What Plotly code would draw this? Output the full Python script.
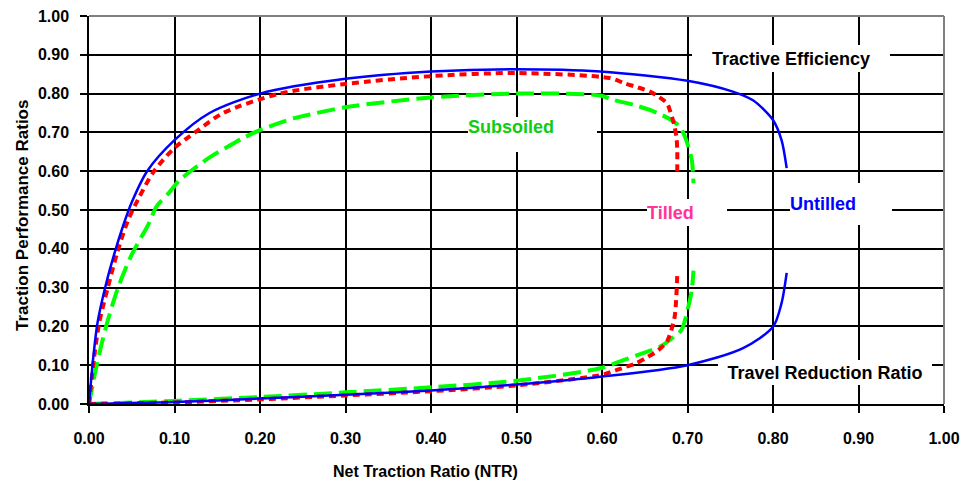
import plotly.graph_objects as go

# ---------------- data ----------------
untilled_te_x = [0.000, 0.005, 0.010, 0.020, 0.030, 0.040, 0.050, 0.068, 0.100, 0.141, 0.200, 0.300,
                 0.400, 0.500, 0.598, 0.700, 0.753, 0.777, 0.800, 0.810, 0.816]
untilled_te_y = [0.000, 0.12, 0.21, 0.31, 0.39, 0.46, 0.52, 0.60, 0.68, 0.75, 0.80, 0.838,
                 0.857, 0.863, 0.857, 0.833, 0.805, 0.782, 0.732, 0.680, 0.608]
untilled_trr_x = [0.0, 0.1, 0.2, 0.3, 0.4, 0.5, 0.598, 0.700, 0.765, 0.800, 0.810, 0.816]
untilled_trr_y = [0.0, 0.005, 0.014, 0.024, 0.035, 0.05, 0.07, 0.10, 0.144, 0.199, 0.26, 0.338]

tilled_te_x = [0.000, 0.006, 0.012, 0.022, 0.033, 0.045, 0.058, 0.076, 0.100, 0.124, 0.157, 0.223,
               0.300, 0.400, 0.500, 0.609, 0.627, 0.642, 0.656, 0.666, 0.676, 0.680, 0.684, 0.687,
               0.688, 0.688]
tilled_te_y = [0.000, 0.12, 0.21, 0.30, 0.39, 0.47, 0.53, 0.60, 0.66, 0.70, 0.75, 0.80,
               0.825, 0.845, 0.853, 0.840, 0.826, 0.816, 0.805, 0.792, 0.775, 0.753, 0.723, 0.689,
               0.655, 0.599]
tilled_trr_x = [0.0, 0.1, 0.2, 0.3, 0.4, 0.5, 0.6, 0.611, 0.627, 0.640, 0.654, 0.666, 0.676,
                0.681, 0.685, 0.687, 0.688]
tilled_trr_y = [0.0, 0.004, 0.012, 0.022, 0.033, 0.048, 0.075, 0.083, 0.095, 0.105, 0.122, 0.139,
                0.161, 0.19, 0.225, 0.28, 0.332]

subsoiled_te_x = [0.000, 0.009, 0.020, 0.034, 0.050, 0.069, 0.079, 0.093, 0.106, 0.126, 0.142, 0.159,
                  0.180, 0.200, 0.239, 0.256, 0.300, 0.400, 0.500, 0.598, 0.613, 0.637, 0.656, 0.670,
                  0.681, 0.691, 0.697, 0.701, 0.705, 0.707]
subsoiled_te_y = [0.000, 0.10, 0.20, 0.30, 0.385, 0.461, 0.509, 0.543, 0.577, 0.612, 0.637, 0.659,
                  0.685, 0.706, 0.736, 0.745, 0.765, 0.790, 0.800, 0.795, 0.784, 0.771, 0.758, 0.745,
                  0.732, 0.715, 0.689, 0.663, 0.629, 0.569]
subsoiled_trr_x = [0.0, 0.1, 0.2, 0.3, 0.4, 0.5, 0.598, 0.625, 0.648, 0.668, 0.685, 0.693, 0.701,
                   0.705, 0.707]
subsoiled_trr_y = [0.0, 0.008, 0.018, 0.03, 0.043, 0.06, 0.092, 0.113, 0.131, 0.148, 0.175, 0.191,
                   0.251, 0.294, 0.344]

tick_vals = [0.0, 0.1, 0.2, 0.3, 0.4, 0.5, 0.6, 0.7, 0.8, 0.9, 1.0]
tick_text = ["0.00", "0.10", "0.20", "0.30", "0.40", "0.50", "0.60", "0.70", "0.80", "0.90", "1.00"]

FONT = "Arial, 'Liberation Sans', Helvetica, sans-serif"

fig = go.Figure()

green = dict(color="#00ff00", width=4, dash="18px,7px", shape="spline", smoothing=0.8)
red = dict(color="#ff0000", width=4, dash="7px,5px", shape="spline", smoothing=0.8)
blue = dict(color="#0000ff", width=2.5, shape="spline", smoothing=0.8)

for xs, ys, ln in [
    (subsoiled_te_x, subsoiled_te_y, green),
    (subsoiled_trr_x, subsoiled_trr_y, green),
    (tilled_te_x, tilled_te_y, red),
    (tilled_trr_x, tilled_trr_y, red),
    (untilled_te_x, untilled_te_y, blue),
    (untilled_trr_x, untilled_trr_y, blue),
]:
    fig.add_trace(go.Scatter(x=xs, y=ys, mode="lines", line=ln, showlegend=False,
                             hoverinfo="skip"))

axis_common = dict(
    range=[0, 1], tickvals=tick_vals, ticktext=tick_text,
    showgrid=True, gridcolor="black", gridwidth=1.5,
    zeroline=False, showline=True, linecolor="black", linewidth=1.5,
    ticks="outside", ticklen=7, tickwidth=1.5, tickcolor="black",
    tickfont=dict(family=FONT, size=16, color="black", weight="bold"),
    automargin=False,
)

fig.update_xaxes(**axis_common, ticklabelstandoff=12)
fig.update_yaxes(**axis_common, ticklabelstandoff=8)


def lab(text, x, y, w, h, color, align="center", valign="middle"):
    fig.add_annotation(
        text=f"<b>{text}</b>", x=x, y=y, xref="x", yref="y",
        xanchor="center", yanchor="middle", showarrow=False,
        width=w, height=h, align=align, valign=valign,
        bgcolor="white", borderpad=0, borderwidth=0,
        font=dict(family=FONT, size=18, color=color),
    )


lab("Tractive Efficiency", 0.821, 0.890, 198, 27, "black")
lab("Subsoiled", 0.519, 0.695, 129, 35, "#11cc11", align="left", valign="top")
lab("Tilled", 0.6994, 0.494, 80, 27, "#ff3399", align="left")
lab("Untilled", 0.8795, 0.5155, 102, 42, "#0000ff", align="left")
lab("Travel Reduction Ratio", 0.8608, 0.0812, 214, 25, "black")

# axis titles
fig.add_annotation(text="<b>Net Traction Ratio (NTR)</b>", xref="paper", yref="paper",
                   x=0.393, y=-0.175, xanchor="center", yanchor="middle", showarrow=False,
                   font=dict(family=FONT, size=16, color="black"))
fig.add_annotation(text="<b>Traction Performance Ratios</b>", xref="paper", yref="paper",
                   x=-0.0784, y=0.487, xanchor="center", yanchor="middle", showarrow=False,
                   textangle=-90, font=dict(family=FONT, size=17, color="black"))

# gray top / right frame edges
fig.add_shape(type="line", xref="paper", yref="paper", x0=0, x1=1, y0=1, y1=1,
              line=dict(color="#808080", width=2), layer="above")
fig.add_shape(type="line", xref="paper", yref="paper", x0=1, x1=1, y0=0, y1=1,
              line=dict(color="#808080", width=2), layer="above")

fig.update_layout(
    width=962, height=484,
    margin=dict(l=89, r=18, t=16, b=80),
    paper_bgcolor="white", plot_bgcolor="white",
    showlegend=False,
)

fig.write_html(
    "out.html",
    config={"displayModeBar": False},
    post_script="document.body.style.margin='0';document.body.style.padding='0';"
                "document.body.style.overflow='hidden';",
)
